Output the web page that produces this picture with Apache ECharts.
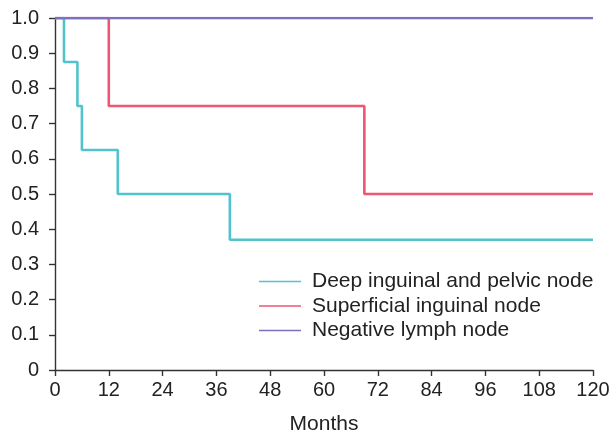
<!DOCTYPE html>
<html>
<head>
<meta charset="utf-8">
<script src="https://cdn.jsdelivr.net/npm/echarts@6/dist/echarts.min.js"></script>
<style>
  html, body { margin: 0; padding: 0; background: #fff; }
  #main { width: 614px; height: 435px; }
</style>
</head>
<body>
<div id="main"></div>
<script>
//数据定义
var series_names = ['Deep inguinal and pelvic node', 'Superficial inguinal node', 'Negative lymph node'];
var series_colors = ['#52c3cc', '#ee5672', '#7a72bf'];

var deep_months = [0, 2, 5, 6, 14, 39, 120];
var deep_survival = [1, 0.875, 0.75, 0.625, 0.5, 0.37, 0.37];

var superficial_months = [0, 12, 69, 120];
var superficial_survival = [1, 0.75, 0.5, 0.5];

var negative_months = [0, 120];
var negative_survival = [1, 1];

//组合点位
function zip(xs, ys) {
    var out = [];
    for (var i = 0; i < xs.length; i++) {
        out.push([xs[i], ys[i]]);
    }
    return out;
}

var all_data = [
    zip(deep_months, deep_survival),
    zip(superficial_months, superficial_survival),
    zip(negative_months, negative_survival)
];

var series_list = [];
for (var k = 0; k < series_names.length; k++) {
    series_list.push({
        name: series_names[k],
        type: 'line',
        step: 'end',
        showSymbol: false,
        data: all_data[k],
        lineStyle: { color: series_colors[k], width: 2.6 },
        itemStyle: { color: series_colors[k] }
    });
}

var font_family = 'Liberation Sans, Arial, sans-serif';
var axis_font = { fontFamily: font_family, fontSize: 20, color: '#222' };

var chart = echarts.init(document.getElementById('main'));
var option = {
    animation: false,
    grid: { left: 55, right: 21, top: 18, bottom: 65, outerBoundsMode: 'none', containLabel: false },
    legend: {
        left: 254,
        top: 266,
        orient: 'vertical',
        icon: 'rect',
        itemWidth: 42,
        itemHeight: 1.5,
        itemGap: 3.5,
        textStyle: { fontFamily: font_family, fontSize: 21, lineHeight: 20, color: '#222', padding: [0, 0, 0, 6] },
        data: series_names
    },
    xAxis: {
        type: 'value',
        min: 0,
        max: 120,
        interval: 12,
        name: 'Months',
        nameLocation: 'middle',
        nameGap: 44,
        nameTextStyle: { fontFamily: font_family, fontSize: 21, color: '#222' },
        axisLine: { lineStyle: { color: '#333', width: 1.4 } },
        axisTick: { length: 6, lineStyle: { color: '#333', width: 1.4 } },
        axisLabel: Object.assign({ margin: 10 }, axis_font),
        splitLine: { show: false }
    },
    yAxis: {
        type: 'value',
        min: 0,
        max: 1,
        interval: 0.1,
        axisLine: { show: true, lineStyle: { color: '#333', width: 1.4 } },
        axisTick: { show: true, length: 6, lineStyle: { color: '#333', width: 1.4 } },
        axisLabel: Object.assign({
            margin: 16,
            formatter: function (v) {
                return v === 0 ? '0' : v.toFixed(1);
            }
        }, axis_font),
        splitLine: { show: false }
    },
    series: series_list
};
chart.setOption(option);
</script>
</body>
</html>
